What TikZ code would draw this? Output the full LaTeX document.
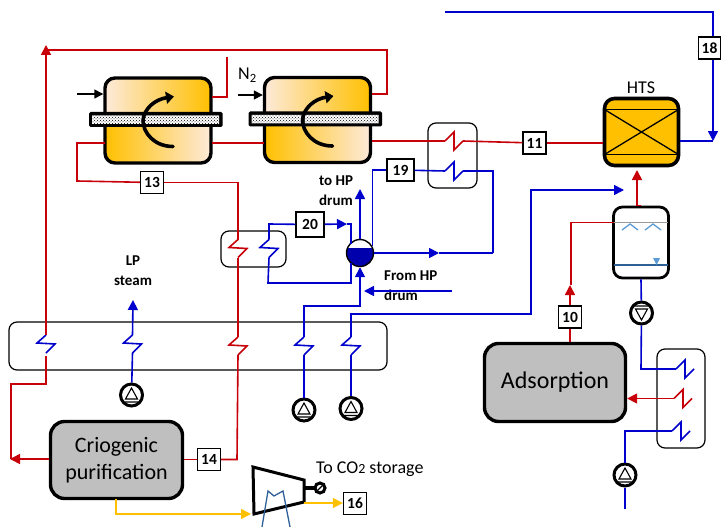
\documentclass[tikz,border=0pt]{standalone}
\usepackage{fontspec}
\setmainfont{Carlito}
\usetikzlibrary{arrows.meta,patterns}

\definecolor{hotred}{HTML}{C8000A}
\definecolor{coldblue}{HTML}{0000CC}
\definecolor{gasorange}{HTML}{FFC000}
\definecolor{paleorange}{HTML}{FDEADA}
\definecolor{unitgray}{HTML}{BFBFBF}
\definecolor{steelblue}{HTML}{2F5F97}
\definecolor{sprayblue}{HTML}{5B9BD5}

\begin{document}
\begin{tikzpicture}[
            x=1pt, y=-1pt,
            font=\fontsize{18}{21}\selectfont,
            hot/.style={draw=hotred, line width=1.6pt},
            cold/.style={draw=coldblue, line width=1.6pt},
            gas/.style={draw=gasorange, line width=1.6pt},
            hotflow/.style={hot, -{Triangle[length=10pt,width=10pt]}},
            coldflow/.style={cold, -{Triangle[length=10pt,width=10pt]}},
            gasflow/.style={gas, -{Triangle[length=10pt,width=10pt]}},
            feed/.style={draw=black, line width=1.4pt, -{Triangle[length=9pt,width=9pt]}},
            tagbox/.style={rectangle, draw=black, line width=1.3pt, fill=white, inner sep=0pt,
                                        minimum width=23pt, minimum height=22pt,
                                        font=\fontsize{15.5}{16}\selectfont\bfseries},
            unitbox/.style={rectangle, rounded corners=14pt, draw=black, line width=3.4pt,
                                        fill=unitgray, align=center, inner sep=0pt,
                                        font=\fontsize{22}{27}\selectfont},
            reactor/.style={rectangle, rounded corners=10pt, draw=black, line width=3.4pt,
                                        minimum width=106pt, minimum height=85pt,
                                        path picture={
                                            \fill[left color=paleorange, right color=gasorange]
                                                (path picture bounding box.north west) rectangle (path picture bounding box.east);
                                            \fill[left color=gasorange, right color=paleorange]
                                                (path picture bounding box.west) rectangle (path picture bounding box.south east);
                                        }},
            hxframe/.style={rectangle, rounded corners=8pt, draw=black, line width=1.2pt, fill=white},
            pumpup/.style={circle, draw=black, line width=3pt, fill=white, minimum size=22pt, inner sep=0pt,
                                        path picture={
                                            \draw[line width=1.1pt, shift={(path picture bounding box.center)}]
                                                (-6,4) -- (0,-7) -- (6,4) -- cycle (-7,7) -- (7,7);
                                        }},
            pumpdown/.style={circle, draw=black, line width=3pt, fill=white, minimum size=22pt, inner sep=0pt,
                                        path picture={
                                            \draw[line width=1.1pt, shift={(path picture bounding box.center)}]
                                                (-6,-4) -- (0,7) -- (6,-4) -- cycle (-7,-7) -- (7,-7);
                                        }},
            boldlabel/.style={font=\fontsize{15}{20}\selectfont\bfseries, align=center, inner sep=0pt},
            zigv/.pic={
                \draw[#1] (0,-9) -- (-9,-1) -- (9,0) -- (0,9);
                \coordinate (-in) at (0,-9);
                \coordinate (-out) at (0,9);
            },
            zigh/.pic={
                \draw[#1] (-9,0) -- (0,-9) -- (0,9) -- (9,0);
                \coordinate (-in) at (-9,0);
                \coordinate (-out) at (9,0);
            },
            membrane/.pic={
                \fill[black, rounded corners=1.5pt] (-69,-8.5) rectangle (64.5,6.5);
                \fill[white] (-66,-5) rectangle (-16,3.5) (-13,-5) rectangle (61,3.5);
                \fill[pattern=crosshatch dots, pattern color=black] (-66,-5) rectangle (-16,3.5) (-13,-5) rectangle (61,3.5);
                \draw[line width=3.6pt, line cap=round] (15,26) .. controls (-4,26) and (-15,12) .. (-15,0);
                \draw[line width=3.6pt, -{Triangle[length=8pt,width=12pt]}] (-15,0) .. controls (-14,-12) and (-3,-21) .. (16,-24);
            }
        ]
        \useasboundingbox (0,0) rectangle (721,527);

        % Frames behind the lines
        \node[hxframe, minimum width=378pt, minimum height=48pt] (bar) at (198,346) {};
        \node[hxframe, minimum width=65pt, minimum height=36pt] (hxleft) at (253.5,249) {};
        \node[hxframe, minimum width=49pt, minimum height=65pt] (hxtop) at (452.5,155.5) {};
        \node[hxframe, minimum width=48pt, minimum height=99pt] (hxright) at (681,398.5) {};

        % Membrane reactors
        \node[reactor] (reactA) at (158,120.5) {};
        \pic at (reactA) {membrane};
        \node[reactor] (reactB) at (317.5,120) {};
        \pic at (reactB) {membrane};
        \node[anchor=west, inner sep=0pt] (nitrogen) at (238,75) {N\textsubscript{2}};

        % HTS and scrubber
        \node[rectangle, rounded corners=10pt, draw=black, line width=3.6pt, fill=gasorange,
                    minimum width=74pt, minimum height=67pt,
                    path picture={
                        \draw[line width=1.3pt] (path picture bounding box.north west) ++(0,11) -- ++(80,0)
                            (path picture bounding box.south west) ++(0,-11) -- ++(80,0);
                        \draw[line width=1.3pt] (path picture bounding box.north west) ++(0,11) -- ([yshift=11pt]path picture bounding box.south east)
                            (path picture bounding box.south west) ++(0,-11) -- ([yshift=-11pt]path picture bounding box.north east);
                    }] (hts) at (641.5,132) {};
        \node[anchor=south, inner sep=0pt] (htslabel) at (641,94) {HTS};
        \node[rectangle, rounded corners=9pt, draw=black, line width=2.8pt, fill=white,
                    minimum width=55pt, minimum height=71pt] (scrubber) at (641,242.5) {};
        \coordinate (scrubtop) at (614,222.5);
        \draw[line width=1.3pt, draw=unitgray!80!black] (scrubtop) -- (668,222.5);
        \draw[line width=1.3pt, draw=sprayblue] (622,230) -- (630,224) -- (638,230) (645,230) -- (653,224) -- (661,230);
        \draw[line width=1.3pt, draw=steelblue] (614,265) -- (668,265);
        \fill[sprayblue] (653,258) -- (660,258) -- (656.5,265) -- cycle;

        % Process units
        \node[unitbox, minimum width=141pt, minimum height=78pt] (adsorption) at (555,382.5)
            {\fontsize{24}{28}\selectfont Adsorption};
        \node[unitbox, minimum width=132pt, minimum height=77pt] (purification) at (116.5,460)
            {Criogenic\\purification};

        % Drum
        \node[circle, draw=black, line width=1.4pt, minimum size=27pt, inner sep=0pt, fill=white,
                    path picture={
                        \fill[coldblue!85!black] (path picture bounding box.west) ++(0,-5) rectangle (path picture bounding box.south east);
                    }] (drum) at (360,253) {};

        % Pumps
        \node[pumpup] (pumpA) at (131.5,395) {};
        \node[pumpup] (pumpB) at (304,410) {};
        \node[pumpup] (pumpC) at (351,408.5) {};
        \node[pumpdown] (pumpD) at (641.5,313) {};
        \node[pumpup] (pumpE) at (625,475) {};

        % Heat exchanger coils
        \pic (coilA) at (46,344) {zigv=cold};
        \pic (coilB) at (132.5,344) {zigv=cold};
        \pic (coilC) at (238,346) {zigv=hot};
        \pic (coilD) at (304,346) {zigv=cold};
        \pic (coilE) at (351,346) {zigv=cold};
        \pic (coilF) at (238,248.5) {zigv=hot};
        \pic (coilG) at (269,248.5) {zigv=cold};
        \pic (coilH) at (454,141) {zigh=hot};
        \pic (coilI) at (454,171) {zigh=cold};
        \pic (coilJ) at (685,369) {zigh=cold};
        \pic (coilK) at (683,398.5) {zigh=hot};
        \pic (coilL) at (681,431) {zigh=cold};

        % Stream numbers
        \node[tagbox] (tag13) at (152,182.5) {13};
        \node[tagbox] (tag14) at (209,459.5) {14};
        \node[tagbox] (tag16) at (355,503.5) {16};
        \node[tagbox] (tag10) at (570,317) {10};
        \node[tagbox] (tag11) at (534.5,143) {11};
        \node[tagbox, minimum width=22pt] (tag18) at (709.5,48) {18};
        \node[tagbox, minimum width=27pt] (tag19) at (400.5,170) {19};
        \node[tagbox, minimum width=28pt, minimum height=25pt] (tag20) at (310,224.5) {20};

        % Compressor
        \node[draw=black, line width=3pt, circle, minimum size=10pt, inner sep=0pt, fill=white] (shaft) at (320,488) {};
        \draw[line width=1.2pt] (shaft.south west) -- (shaft.north east);
        \draw[line width=3pt, join=miter] (253,467) -- (304,480) -- (304,502) -- (254,514) -- cycle;
        \coordinate (shaftroot) at (304,488);
        \draw[line width=3.2pt] (shaftroot) -- (shaft);
        \coordinate (driveA) at (262,527);
        \coordinate (driveB) at (290,527);
        \draw[draw=steelblue, line width=1.3pt] (driveA) -- (268,491) -- (274,496) -- (283,491) -- (driveB);

        % Labels
        \node[boldlabel] (lpsteam) at (133,271) {LP\\steam};
        \node[boldlabel] (tohp) at (336,191) {to HP\\drum};
        \node[boldlabel, align=left, anchor=north west] (fromhp) at (384,271) {From HP\\drum};
        \node[anchor=west, inner sep=0pt] (tostorage) at (316,469) {To CO{\fontsize{14}{14}\selectfont 2} storage};

        % Feed arrows
        \coordinate (feedA) at (77,94);
        \coordinate (feedB) at (238,95);
        \draw[feed] (feedA) -- (reactA.west |- feedA);
        \draw[feed] (feedB) -- (reactB.west |- feedB);

        % Hot side connections
        \coordinate (reactAout) at (212,97);
        \coordinate (reactAend) at (227,57);
        \coordinate (reactBout) at (372,94);
        \coordinate (riser) at (46,45);
        \coordinate (reactAlow) at (212,143);
        \coordinate (reactBlow) at (264,143);
        \coordinate (reactAleft) at (105,143);
        \coordinate (reactBright) at (372,141);
        \coordinate (scrubin) at (571,285);
        \draw[hot] (reactBout) -| (387,50) -- (46,50);
        \draw[hotflow] (coilA-in) -- (riser);
        \draw[hot] (reactAout) -| (reactAend);
        \draw[hot] (reactAlow) -- (reactBlow);
        \draw[hot] (reactAleft) -| (77,181) -- (tag13);
        \draw[hot] (tag13) -| (coilF-in);
        \draw[hot] (coilF-out) -- (coilC-in);
        \draw[hot] (coilC-out) -- (237,459.5) -- (tag14);
        \draw[hot] (tag14) -- (tag14 -| purification.east);
        \draw[hot, shorten <=3pt] (coilA-out) -- (46,384) -- (11,384) -- (11,459);
        \draw[hotflow] (purification.west |- 0,459) -- (10,459);
        \draw[hot] (reactBright) -- (coilH-in);
        \draw[hot] (coilH-out) -- (tag11);
        \draw[hot] (tag11) -- (hts.west |- tag11);
        \draw[hotflow] (scrubber.north) -- ++(-4,0) -- (637,170);
        \draw[hot] (scrubtop) -| (scrubin);
        \draw[hotflow] (tag10) -- (scrubin -| tag10);
        \draw[hot] (adsorption.north -| tag10) -- (tag10);
        \draw[hotflow] (coilK-in) -- (adsorption.east |- coilK-in);

        % Cold side connections
        \coordinate (steamout) at (133,300);
        \coordinate (topstart) at (445,12);
        \coordinate (topcorner) at (713,12);
        \coordinate (htsdrop) at (713,141);
        \coordinate (hpup) at (360,189);
        \coordinate (hpin) at (452,291);
        \coordinate (hpinend) at (364,291);
        \coordinate (shiftin) at (624,190);
        \coordinate (waterin) at (625,509);
        \draw[cold] (pumpA) -- (coilB-out);
        \draw[coldflow] (coilB-in) -- (steamout);
        \draw[cold] (pumpB) -- (coilD-out);
        \draw[coldflow] (coilD-in) -- (304,306) -- (360,306) -- (drum.south);
        \draw[cold] (pumpC) -- (coilE-out);
        \draw[coldflow] (coilE-in) -- (351,314) -- (531,314) -- (531,190) -- (shiftin);
        \draw[coldflow] (drum.north) -- (hpup);
        \draw[coldflow] (hpin) -- (hpinend);
        \draw[cold] (drum.30) |- (tag19);
        \draw[cold] (tag19) -- (coilI-in);
        \draw[cold] (coilI-out) -- (493,171) -- (493,253);
        \draw[coldflow] (drum.east) -- (439,253);
        \draw[cold] (439,253) -- (493,253);
        \draw[cold] (coilG-in) -- (269,224) -- (tag20);
        \draw[coldflow] (tag20) -- (347,224);
        \draw[cold] (347,224) -| (351,244);
        \draw[cold] (coilG-out) -- (268,283) -- (351,283) -- (351,263);
        \draw[cold] (topstart) -- (topcorner) -- (tag18.north -| topcorner);
        \draw[coldflow] (tag18.south -| topcorner) -- (htsdrop);
        \draw[cold] (hts.east |- htsdrop) -- (htsdrop);
        \draw[cold] (scrubber.south) -- (pumpD);
        \draw[cold] (pumpD) -- (641,369) -- (coilJ-in);
        \draw[cold] (waterin) -- (pumpE);
        \draw[cold] (pumpE) -- (625,431) -- (coilL-in);

        % Product stream
        \coordinate (gasout) at (116,499);
        \coordinate (gastip) at (251,514);
        \coordinate (compout) at (304,503);
        \draw[gasflow] (gasout) |- (gastip);
        \draw[gasflow] (compout) -- (tag16.west |- compout);

        \end{tikzpicture}
\end{document}
